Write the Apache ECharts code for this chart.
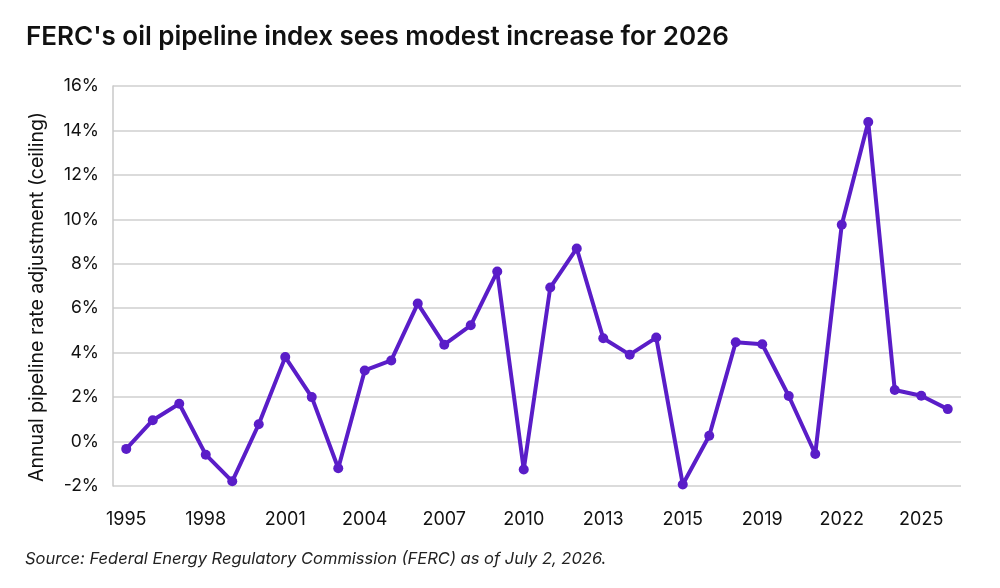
<!DOCTYPE html>
<html>
<head>
<meta charset="utf-8">
<script src="https://cdn.jsdelivr.net/npm/echarts@6/dist/echarts.min.js"></script>
<style>
html,body{margin:0;padding:0;background:#fff;}
#chart{width:1000px;height:588px;}
</style>
</head>
<body>
<div id="chart"></div>
<script>
const categories = ['1995','1996','1997','1998','1999','2000','2001','2002','2003','2004','2005','2006','2007','2008','2009','2010','2011','2012','2013','2014','2015','2016','2017','2018','2019','2020','2021','2022','2023','2024','2025','2026'];
const values = [-0.33,0.96,1.70,-0.59,-1.79,0.78,3.80,2.00,-1.20,3.20,3.65,6.21,4.36,5.23,7.65,-1.26,6.93,8.69,4.65,3.91,4.68,-1.93,0.26,4.47,4.38,2.05,-0.56,9.76,14.38,2.32,2.06,1.46];
const xTickLabels = ['1995','1998','2001','2004','2007','2010','2013','2015','2019','2022','2025'];
const yTicks = [-2,0,2,4,6,8,10,12,14,16];

const chart = echarts.init(document.getElementById('chart'));
const font = 'Inter, "Noto Sans", sans-serif';
chart.setOption({
  animation:false,
  title:[{
    text:"FERC's oil pipeline index sees modest increase for 2026",
    left:21, top:19,
    textStyle:{fontFamily:font,fontSize:26,fontWeight:600,color:'#111'}
  },{
    text:'Source: Federal Energy Regulatory Commission (FERC) as of July 2, 2026.',
    left:20, top:546,
    textStyle:{fontFamily:font,fontSize:16.5,fontStyle:'italic',fontWeight:400,color:'#222'}
  }],
  grid:{left:113,right:39,top:86,bottom:102},
  xAxis:{
    type:'category',
    data:categories,
    boundaryGap:true,
    axisLine:{show:false},
    axisTick:{show:false},
    axisLabel:{
      interval:0,
      margin:25,
      fontFamily:font,fontSize:18,color:'#111',
      formatter:(v,i)=> i%3===0 ? xTickLabels[i/3] : ''
    }
  },
  yAxis:{
    type:'value',
    min:yTicks[0], max:yTicks[yTicks.length-1], interval:2,
    name:'Annual pipeline rate adjustment (ceiling)',
    nameLocation:'middle',
    nameGap:66,
    nameTextStyle:{fontFamily:font,fontSize:19.5,color:'#111',padding:[0,22,0,0]},
    axisLine:{show:true,lineStyle:{color:'#c8c8c8',width:1.5}},
    axisTick:{show:false},
    splitLine:{lineStyle:{color:'#cfcfcf',width:1.5}},
    axisLabel:{fontFamily:font,fontSize:17.5,color:'#111',margin:14,formatter:v=>v+'%'}
  },
  series:[{
    type:'line',
    data:values,
    symbol:'circle',
    symbolSize:10,
    lineStyle:{color:'#5a1dc8',width:4},
    itemStyle:{color:'#5a1dc8'}
  }]
});
</script>
</body>
</html>
